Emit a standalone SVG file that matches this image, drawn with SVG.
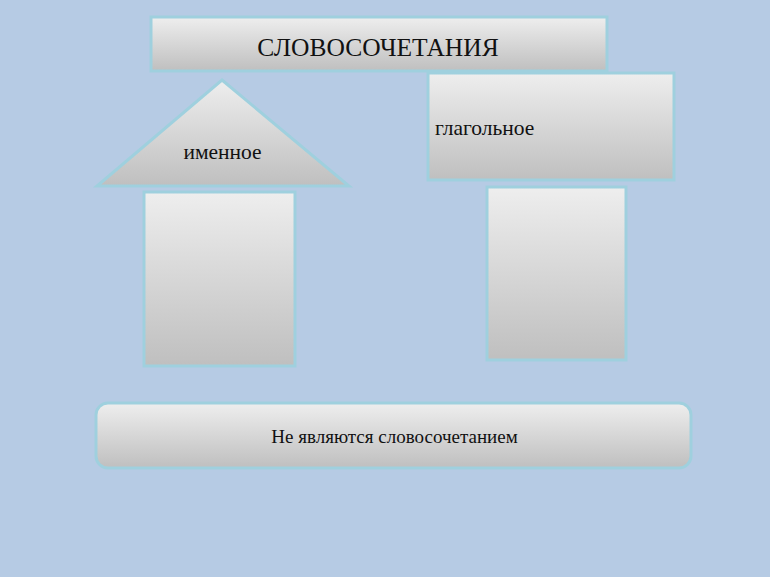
<svg xmlns="http://www.w3.org/2000/svg" width="770" height="577" viewBox="0 0 770 577">
<defs>
<linearGradient id="g" x1="0" y1="0" x2="0" y2="1">
<stop offset="0" stop-color="#eeeeee"/>
<stop offset="1" stop-color="#bfbfbf"/>
</linearGradient>
<style>
.n{fill:url(#g);stroke:#9fd0de;stroke-width:3}
.t{font-family:"Liberation Serif","DejaVu Serif",serif;fill:#111}
</style>
</defs>
<rect width="770" height="577" fill="#b6cbe4"/>
<g id="title">
<rect class="n" x="151" y="17" width="456" height="54"/>
<text class="t" x="378" y="56" font-size="25.5" text-anchor="middle">СЛОВОСОЧЕТАНИЯ</text>
</g>
<g id="nominal">
<polygon class="n" points="222,80 349,186 97,186"/>
<text class="t" x="222.5" y="159" font-size="21.5" text-anchor="middle">именное</text>
</g>
<g id="nominal-box">
<rect class="n" x="144" y="192" width="151" height="174"/>
</g>
<g id="verbal">
<rect class="n" x="428" y="73" width="246" height="107"/>
<text class="t" x="435" y="135" font-size="21.5">глагольное</text>
</g>
<g id="verbal-box">
<rect class="n" x="487" y="187" width="139" height="173"/>
</g>
<g id="not">
<rect class="n" x="96" y="403" width="595" height="65" rx="12"/>
<text class="t" x="394.5" y="443" font-size="19" text-anchor="middle">Не являются словосочетанием</text>
</g>
<g id="connectors"/>
</svg>
